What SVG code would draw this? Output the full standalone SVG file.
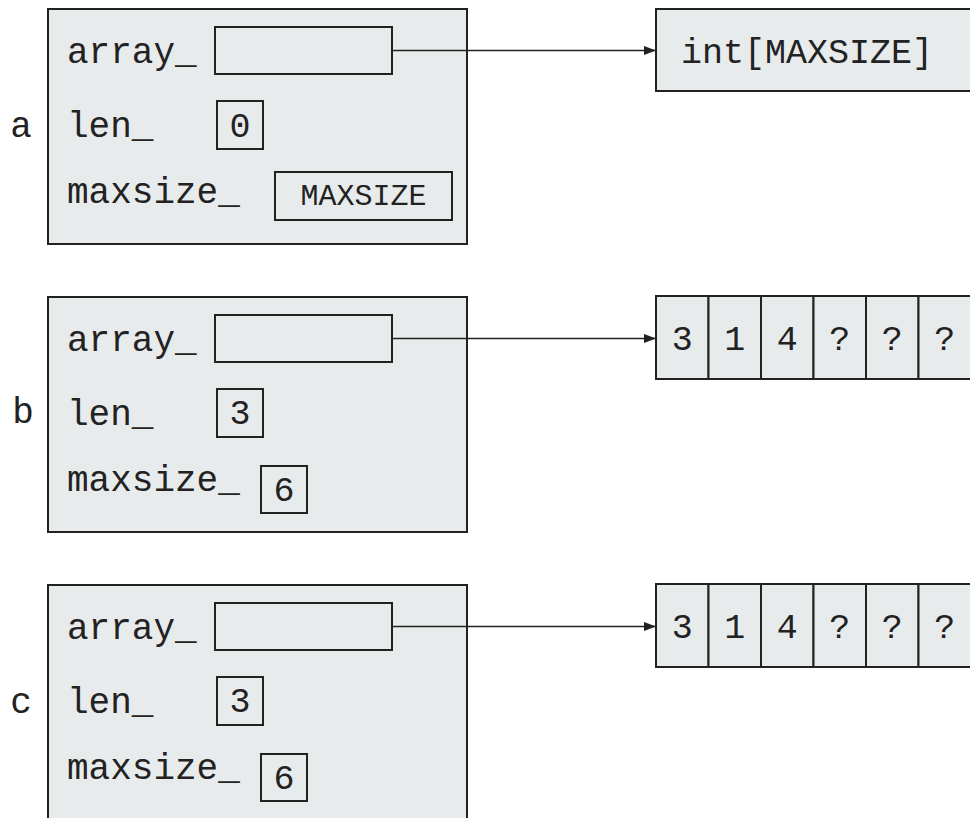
<svg xmlns="http://www.w3.org/2000/svg" width="970" height="818" viewBox="0 0 970 818">
  <defs>
    <style>
      .obj { fill: #e8ebec; stroke: #222; stroke-width: 2; }
      .slot { fill: none; stroke: #222; stroke-width: 2; }
      .cell { fill: #e8ebec; stroke: #222; stroke-width: 2; }
      .t { font-family: "Liberation Mono", "Courier New", monospace; font-size: 36px; fill: #222; }
      .v { font-family: "Liberation Mono", "Courier New", monospace; font-size: 35px; fill: #222; text-anchor: middle; }
      .s { font-family: "Liberation Mono", "Courier New", monospace; font-size: 30px; fill: #222; text-anchor: middle; }
      .lbl { font-family: "Liberation Mono", "Courier New", monospace; font-size: 36px; fill: #222; text-anchor: middle; }
      .conn { stroke: #222; stroke-width: 1.5; fill: none; }
    </style>
    <marker id="arrow" markerWidth="12" markerHeight="9" refX="12" refY="4.5" orient="auto" markerUnits="userSpaceOnUse">
      <path d="M0,0 L12,4.5 L0,9 Z" fill="#222"/>
    </marker>
  </defs>

  <!-- Object a -->
  <g id="obj-a">
    <text class="lbl" x="21" y="137">a</text>
    <rect class="obj" x="48" y="9" width="419" height="235"/>
    <text class="t" x="67" y="63">array_</text>
    <rect class="slot" x="215" y="27" width="177" height="47"/>
    <text class="t" x="67" y="137">len_</text>
    <rect class="slot" x="217" y="101" width="46" height="48"/>
    <text class="v" x="240" y="137">0</text>
    <text class="t" x="67" y="203">maxsize_</text>
    <rect class="slot" x="275" y="172" width="177" height="48"/>
    <text class="s" x="363.5" y="205">MAXSIZE</text>
  </g>

  <g id="heap-a">
    <rect class="cell" x="656" y="9" width="330" height="82"/>
    <text class="t" x="681" y="63" style="font-size:35px">int[MAXSIZE]</text>
  </g>

  <!-- Object b -->
  <g id="obj-b">
    <text class="lbl" x="23" y="423">b</text>
    <rect class="obj" x="48" y="297" width="419" height="235"/>
    <text class="t" x="67" y="351">array_</text>
    <rect class="slot" x="215" y="315" width="177" height="47"/>
    <text class="t" x="67" y="425">len_</text>
    <rect class="slot" x="217" y="389" width="46" height="48"/>
    <text class="v" x="240" y="424">3</text>
    <text class="t" x="67" y="491">maxsize_</text>
    <rect class="slot" x="261" y="466" width="46" height="47"/>
    <text class="v" x="284" y="501">6</text>
  </g>

  <g id="heap-b">
    <rect class="cell" x="656" y="296" width="52.5" height="83"/>
    <rect class="cell" x="708.5" y="296" width="52.5" height="83"/>
    <rect class="cell" x="761" y="296" width="52.5" height="83"/>
    <rect class="cell" x="813.5" y="296" width="52.5" height="83"/>
    <rect class="cell" x="866" y="296" width="52.5" height="83"/>
    <rect class="cell" x="918.5" y="296" width="52.5" height="83"/>
    <text class="v" x="682.25" y="350">3</text>
    <text class="v" x="734.75" y="350">1</text>
    <text class="v" x="787.25" y="350">4</text>
    <text class="v" x="839.75" y="350">?</text>
    <text class="v" x="892.25" y="350">?</text>
    <text class="v" x="944.75" y="350">?</text>
  </g>

  <!-- Object c -->
  <g id="obj-c">
    <text class="lbl" x="21" y="713">c</text>
    <rect class="obj" x="48" y="585" width="419" height="240"/>
    <text class="t" x="67" y="639">array_</text>
    <rect class="slot" x="215" y="603" width="177" height="47"/>
    <text class="t" x="67" y="713">len_</text>
    <rect class="slot" x="217" y="677" width="46" height="48"/>
    <text class="v" x="240" y="712">3</text>
    <text class="t" x="67" y="779">maxsize_</text>
    <rect class="slot" x="261" y="754" width="46" height="47"/>
    <text class="v" x="284" y="789">6</text>
  </g>

  <g id="heap-c">
    <rect class="cell" x="656" y="584" width="52.5" height="83"/>
    <rect class="cell" x="708.5" y="584" width="52.5" height="83"/>
    <rect class="cell" x="761" y="584" width="52.5" height="83"/>
    <rect class="cell" x="813.5" y="584" width="52.5" height="83"/>
    <rect class="cell" x="866" y="584" width="52.5" height="83"/>
    <rect class="cell" x="918.5" y="584" width="52.5" height="83"/>
    <text class="v" x="682.25" y="638">3</text>
    <text class="v" x="734.75" y="638">1</text>
    <text class="v" x="787.25" y="638">4</text>
    <text class="v" x="839.75" y="638">?</text>
    <text class="v" x="892.25" y="638">?</text>
    <text class="v" x="944.75" y="638">?</text>
  </g>

  <!-- Connectors -->
  <g id="connectors">
    <line class="conn" x1="392" y1="50.5" x2="656" y2="50.5" marker-end="url(#arrow)"/>
    <line class="conn" x1="392" y1="338.5" x2="656" y2="338.5" marker-end="url(#arrow)"/>
    <line class="conn" x1="392" y1="626.5" x2="656" y2="626.5" marker-end="url(#arrow)"/>
  </g>
</svg>
